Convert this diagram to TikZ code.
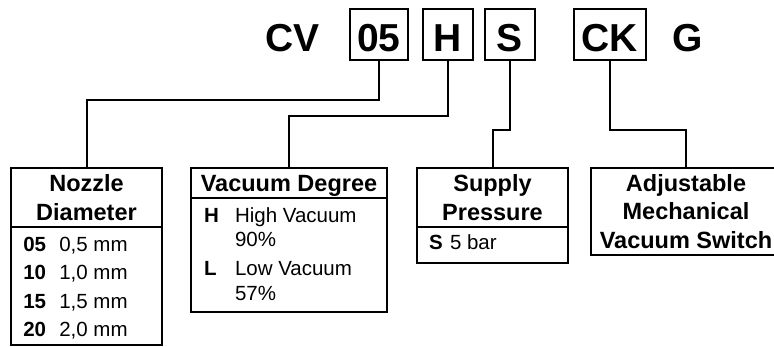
\documentclass[tikz,border=0pt]{standalone}
\usepackage{fontspec}
\setmainfont{Liberation Sans}
\usetikzlibrary{positioning}
\begin{document}
\begin{tikzpicture}[x=1pt, y=-1pt, line width=2pt,
  ttl/.style={font=\fontsize{39}{47}\selectfont\bfseries, inner sep=0pt, text height=35pt, text depth=0pt},
  tbox/.style={ttl, draw, minimum height=51pt},
  hdr/.style={draw, outer sep=0pt, inner sep=0pt, align=center, font=\fontsize{23.5}{28.3}\selectfont\bfseries},
  lst/.style={draw, outer sep=0pt, inner sep=0pt, anchor=north},
  txt/.style={anchor=base west, inner sep=0pt, font=\fontsize{20.5}{24.3}\selectfont}]
  \useasboundingbox (0,0) rectangle (774,347);
  \node[ttl, anchor=base] (cv) at (292.5,52) {CV};
  \node[tbox, minimum width=58pt] (c05) at (379,34.5) {05};
  \node[tbox, minimum width=50pt] (ch) at (448,34.5) {H};
  \node[tbox, minimum width=50pt] (cs) at (510,34.5) {S};
  \node[tbox, minimum width=72pt] (cck) at (610,34.5) {CK};
  \node[ttl, anchor=base] (cg) at (687.5,52) {G};
  \node[hdr, minimum width=151pt, minimum height=59pt] (nozh) at (86.5,197.5) {Nozzle\\Diameter};
  \node[lst, minimum width=151pt, minimum height=118pt] (nozb) at (nozh.south) {};
  \node[hdr, minimum width=196pt, minimum height=30pt, text depth=0pt] (vach) at (289,183) {Vacuum Degree};
  \node[lst, minimum width=196pt, minimum height=114pt] (vacb) at (vach.south) {};
  \node[hdr, minimum width=151pt, minimum height=59pt] (suph) at (492.5,197.5) {Supply\\Pressure};
  \node[lst, minimum width=151pt, minimum height=36pt] (supb) at (suph.south) {};
  \node[hdr, minimum width=190pt, minimum height=87pt] (adjh) at (686,211.5) {Adjustable\\Mechanical\\Vacuum Switch};
  \node[txt] (nozt) at (22.3,251.7) {\begin{tabular}[t]{@{}p{36pt}@{}l@{}}
    \textbf{05} & 0,5 mm\\[4pt] \textbf{10} & 1,0 mm\\[4pt] \textbf{15} & 1,5 mm\\[4pt] \textbf{20} & 2,0 mm\end{tabular}};
  \node[txt] (vact) at (203,222.7) {\begin{tabular}[t]{@{}p{31pt}@{}l@{}}
    \textbf{H} & High Vacuum\\ & 90\%\\[4.7pt] \textbf{L} & Low Vacuum\\ & 57\%\end{tabular}};
  \node[txt] (supt) at (428,250) {\begin{tabular}[t]{@{}p{21pt}@{}l@{}}\textbf{S} & 5 bar\end{tabular}};
  \draw (c05.south) -- ++(0,39) -| (nozh.north);
  \draw (ch.south) -- ++(0,55) -| (vach.north);
  \draw (cs.south) -- ++(0,69) -| (suph.north);
  \draw (cck.south) -- ++(0,69) -| (adjh.north);
\end{tikzpicture}
\end{document}
